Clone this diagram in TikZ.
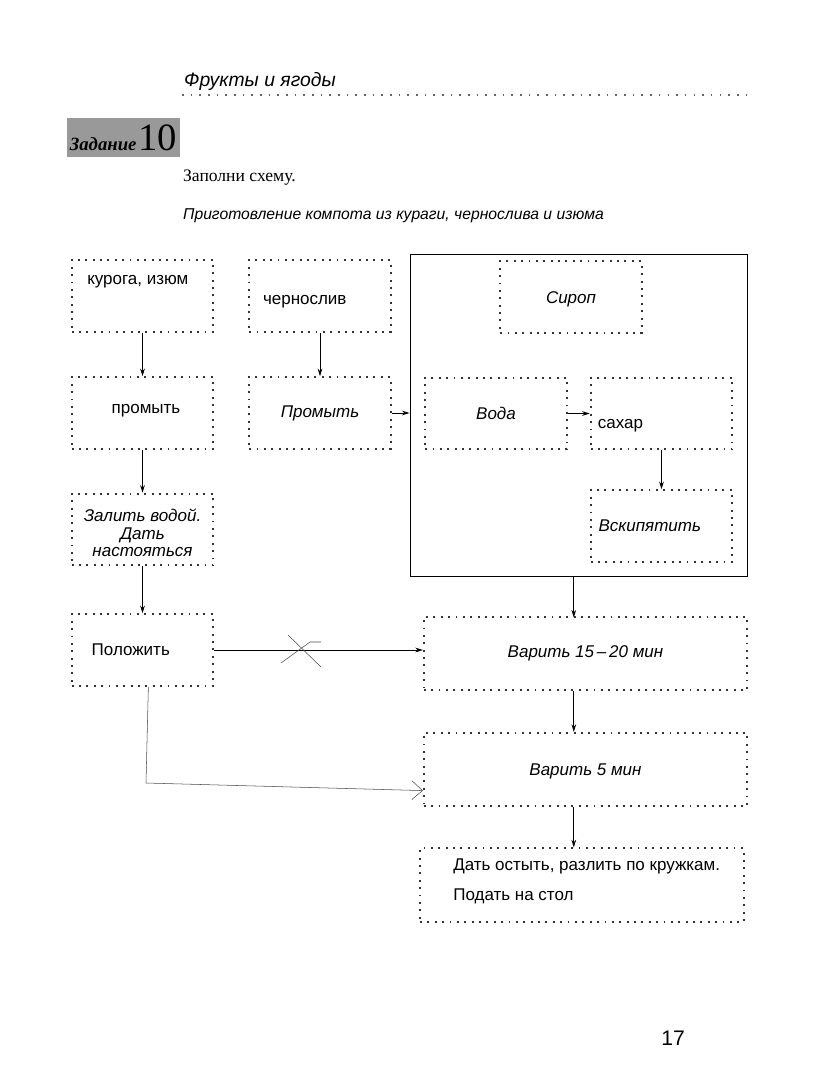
\documentclass[tikz,border=0pt]{standalone}
\usepackage{fontspec}
\setmainfont{Liberation Sans}
\newfontfamily\serifcyr{Liberation Serif}
\usetikzlibrary{arrows.meta}

\begin{document}
\begin{tikzpicture}[x=0.03cm, y=-0.03cm,
  box/.style={draw=black!80, line width=1.6pt, dash pattern=on 1.6pt off 4.7pt, minimum width=4.25cm, minimum height=2.15cm, inner sep=0pt},
  wide/.style={box, minimum width=9.7cm, minimum height=2.2cm},
  arr/.style={-{Stealth[length=6.5pt,width=4pt]}, line width=0.7pt},
  hand/.style={line width=0.45pt, black!70},
  every label/.style={font=\fontsize{14.5}{16}\selectfont, align=center}]
\useasboundingbox[fill=white] (0,0) rectangle (834,1079);

% page head
\node[anchor=base west, font=\fontsize{16.5}{20}\selectfont\itshape] (head) at (180,86) {Фрукты и ягоды};
\draw[line width=1.4pt, dash pattern=on 1.4pt off 6pt, black!60] (182,95) -- (748,95);
\node[fill=black!40, minimum width=3.39cm, minimum height=1.17cm, inner sep=0pt] (task) at (123.5,137.5)
  {{\serifcyr\fontsize{16}{16}\selectfont\itshape\bfseries Задание}\,{\serifcyr\fontsize{33}{33}\selectfont 10}};
\node[anchor=base west, font=\serifcyr\fontsize{15}{18}\selectfont] (fill) at (179,181) {Заполни схему.};
\node[anchor=base west, font=\fontsize{13.4}{16}\selectfont\itshape] (title) at (179,219) {Приготовление компота из кураги, чернослива и изюма};

% left columns
\node[box, label={[xshift=-4pt, yshift=12pt]center:курога, изюм}] (kuraga) at (142.5,296) {};
\node[box, label={[xshift=-13pt, yshift=-5pt]center:чернослив}] (prune) at (320,296) {};
\node[box, label={[xshift=3pt, yshift=2pt]center:промыть}] (washa) at (142.5,413) {};
\node[box, label={center:\itshape Промыть}] (washb) at (320,413) {};
\node[box, label={[yshift=-3pt, font=\fontsize{14.5}{15}\selectfont]center:\itshape Залить водой.\\\itshape Дать\\\itshape настояться}] (soak) at (142.5,529.5) {};
\node[box, label={[xshift=-10pt]center:Положить}] (put) at (142.5,650) {};

% syrup block
\node[draw, line width=0.8pt, minimum width=10.11cm, minimum height=9.66cm, inner sep=0pt] (syrupbox) at (578.5,415) {};
\node[box, label={[yshift=-2pt]center:\itshape Сироп}] (syrup) at (571,297) {};
\node[box, label={center:\itshape Вода}] (water) at (496,413.5) {};
\node[box, label={[xshift=-35pt, yshift=-10pt]center:сахар}] (sugar) at (661.5,413.5) {};
\node[box, label={[xshift=-10pt]center:\itshape Вскипятить}] (boil) at (661.5,526) {};

% right column
\node[wide, label={center:\itshape Варить 15\,--\,20 мин}] (cooka) at (585.5,653.5) {};
\node[wide, label={[yshift=-2pt]center:\itshape Варить 5 мин}] (cookb) at (585.5,769.5) {};
\node[wide, minimum width=9.72cm, label={[xshift=4pt, yshift=3pt]center:\begin{tabular}{@{}l@{}}Дать остыть, разлить по кружкам.\\[10pt]Подать на стол\end{tabular}}] (serve) at (582,885) {};

\node[anchor=base, font=\fontsize{18}{20}\selectfont] (page) at (673,1045) {17};

\draw[arr] (kuraga) -- (washa);
\draw[arr] (prune) -- (washb);
\draw[arr] (washa) -- (soak);
\draw[arr] (soak) -- (put);
\draw[arr] (washb.east) -- (washb.east -| syrupbox.west);
\draw[arr] (water) -- (sugar);
\draw[arr] (sugar) -- (boil);
\draw[arr] (syrupbox.south -| cooka.north) ++(-10pt,0) -- ++(0,-1.23cm);
\draw[arr] (put) -- (put -| cooka.west);
\draw[arr] ([xshift=-10pt]cooka.south) -- ([xshift=-10pt]cookb.north);
\draw[arr] ([xshift=-10pt]cookb.south) -- ([xshift=-10pt]cookb.south |- serve.north);

% pencil marks
\draw[hand] (281,663) -- (310,642) -- (321,642);
\draw[hand] (288,635) -- (321,667);
\coordinate (bend) at (146,783);
\draw[hand, -{Straight Barb[length=9pt,width=16pt]}] ([xshift=5pt]put.south) -- (bend) -- ([yshift=-18pt]cookb.west);
\end{tikzpicture}
\end{document}
